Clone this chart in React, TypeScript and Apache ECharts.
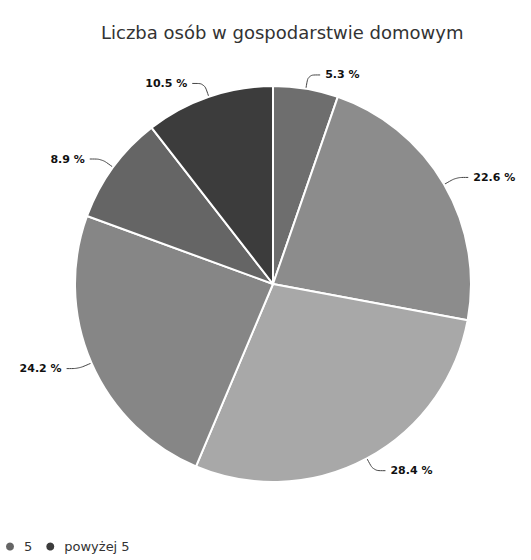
import React, { useEffect, useRef } from "react";
import * as echarts from "echarts";

const titleText = "Liczba osób w gospodarstwie domowym";
const categories = ["1", "2", "3", "4", "5", "powyżej 5"];
const values = [5.3, 22.6, 28.4, 24.2, 8.9, 10.5];
const colors = ["#6e6e6e", "#8c8c8c", "#a8a8a8", "#868686", "#656565", "#3c3c3c"];
const legendItems = ["5", "powyżej 5"];

export default function App() {
  const ref = useRef<HTMLDivElement>(null);
  useEffect(() => {
    document.body.style.margin = "0";
    const chart = echarts.init(ref.current!, undefined, { renderer: "svg" });
    chart.setOption({
      animation: false,
      backgroundColor: "#ffffff",
      title: {
        text: titleText,
        left: 96,
        top: 18,
        textStyle: {
          fontFamily: "DejaVu Sans",
          fontSize: 18,
          fontWeight: "normal",
          color: "#333333",
        },
      },
      legend: {
        data: legendItems,
        left: 2,
        top: 538,
        padding: 2,
        icon: "circle",
        itemWidth: 10,
        itemHeight: 10,
        itemGap: 12,
        textStyle: { fontFamily: "DejaVu Sans", fontSize: 13, color: "#333333", padding: [0, 0, 0, 4] },
      },
      series: [
        {
          type: "pie",
          center: [273, 284],
          radius: 198,
          startAngle: 90,
          clockwise: true,
          data: categories.map((c, i) => ({
            name: c,
            value: values[i],
            itemStyle: { color: colors[i] },
          })),
          itemStyle: { borderColor: "#ffffff", borderWidth: 2 },
          label: {
            show: true,
            formatter: (p: any) => p.value.toFixed(1) + " %",
            fontFamily: "DejaVu Sans",
            fontSize: 11,
            fontWeight: "bold",
            color: "#111111",
            overflow: "none",
            width: 60,
          },
          labelLine: {
            show: true,
            length: 14,
            length2: 12,
            smooth: 0.3,
            lineStyle: { color: "#444444", width: 1 },
          },
          emphasis: { disabled: true },
        },
      ],
    });
    return () => chart.dispose();
  }, []);
  return <div ref={ref} style={{ width: 531, height: 560 }} />;
}
